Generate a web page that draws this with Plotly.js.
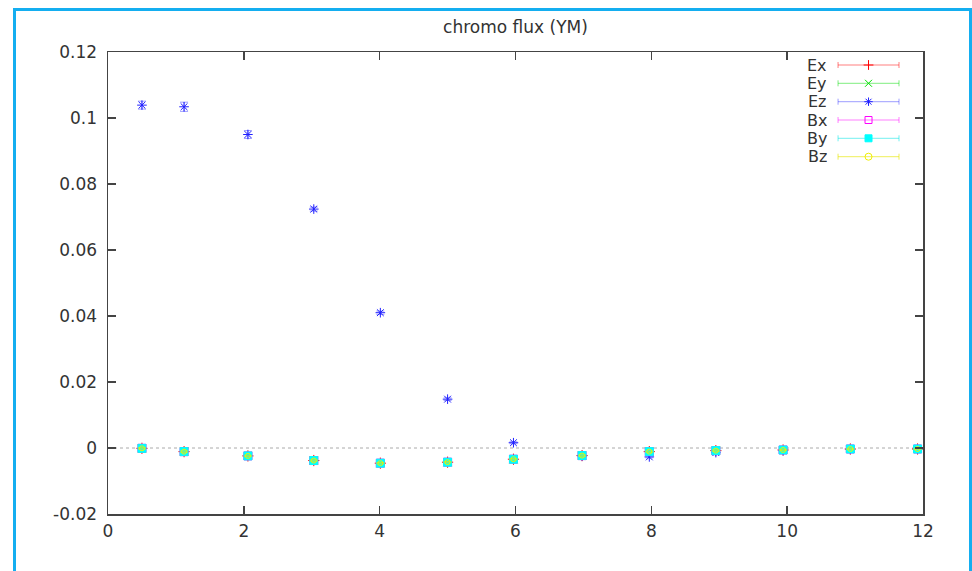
<!DOCTYPE html>
<html>
<head>
<meta charset="utf-8">
<script src="https://cdn.plot.ly/plotly-3.0.1.min.js"></script>
<style>
  html, body { margin: 0; padding: 0; background: #fff; }
  #wrap { position: relative; width: 972px; height: 571px; overflow: hidden; }
  #chart { position: absolute; left: 0; top: 0; width: 972px; height: 571px; }
  #frame { position: absolute; left: 13px; top: 8px; width: 953px; height: 560px;
           border: 3px solid #14aef0; pointer-events: none; }
</style>
</head>
<body>
<div id="wrap">
  <div id="chart"></div>
  <div id="frame"></div>
</div>
<script>
// ---- data ----
const seriesNames = ["Ex", "Ey", "Ez", "Bx", "By", "Bz"];
const xVals  = [0.5, 1.12, 2.06, 3.03, 4.01, 5.0, 5.97, 6.98, 7.97, 8.95, 9.94, 10.93, 11.92];
const exVals = [-0.0001, -0.0011, -0.0024, -0.0038, -0.0046, -0.0043, -0.0034, -0.0023, -0.0011, -0.0008, -0.0006, -0.0003, -0.0003];
const eyVals = [-0.0001, -0.0011, -0.0024, -0.0038, -0.0046, -0.0043, -0.0034, -0.0023, -0.0011, -0.0008, -0.0006, -0.0003, -0.0003];
const ezVals = [0.1039, 0.1034, 0.0950, 0.0724, 0.0410, 0.0148, 0.0016, -0.0024, -0.0027, -0.0014, -0.0008, -0.0004, -0.0003];
const bxVals = [-0.0001, -0.0011, -0.0024, -0.0038, -0.0046, -0.0043, -0.0034, -0.0023, -0.0011, -0.0008, -0.0006, -0.0003, -0.0003];
const byVals = [-0.0001, -0.0011, -0.0024, -0.0038, -0.0046, -0.0043, -0.0034, -0.0023, -0.0011, -0.0008, -0.0006, -0.0003, -0.0003];
const bzVals = [-0.0001, -0.0011, -0.0024, -0.0038, -0.0046, -0.0043, -0.0034, -0.0023, -0.0011, -0.0008, -0.0006, -0.0003, -0.0003];
const ezErr  = [0.0012, 0.0014, 0.0012, 0.0006, 0.0005, 0.0004, 0.0003, 0.0003, 0.0003, 0.0002, 0.0002, 0.0002, 0.0002];
const smallErr = [0.0002, 0.0002, 0.0002, 0.0002, 0.0002, 0.0002, 0.0002, 0.0002, 0.0002, 0.0002, 0.0002, 0.0002, 0.0002];
const xTicks = [0, 2, 4, 6, 8, 10, 12];
const yTicks = [-0.02, 0, 0.02, 0.04, 0.06, 0.08, 0.1, 0.12];
const yTickText = ["-0.02", "0", "0.02", "0.04", "0.06", "0.08", "0.1", "0.12"];

// ---- styles ----
const colors = ["#ff0000", "#00e000", "#2020ff", "#ff00ff", "#00ffff", "#f0f000"];
const barColors = ["rgba(255,0,0,0.5)", "rgba(0,220,0,0.5)", "rgba(40,40,255,0.45)",
                   "rgba(255,0,255,0.5)", "rgba(0,230,230,0.55)", "rgba(230,230,0,0.65)"];
const symbols = ["cross-thin-open", "x-thin-open", "asterisk-open", "square-open", "square", "circle-open"];
const sizes = [8, 8, 8, 8, 8, 5];
const values = [exVals, eyVals, ezVals, bxVals, byVals, bzVals];
const errs = [smallErr, smallErr, ezErr, smallErr, smallErr, smallErr];

const FONT = "DejaVu Sans, Liberation Sans, Arial, sans-serif";
const traces = [];
for (let i = 0; i < seriesNames.length; i++) {
  traces.push({
    type: "scatter", mode: "markers", name: seriesNames[i],
    x: xVals, y: values[i],
    error_y: { type: "data", array: errs[i], visible: true, color: barColors[i], thickness: 1, width: 4 },
    marker: { symbol: symbols[i], size: sizes[i], color: colors[i], line: { color: colors[i], width: 1 } },
    showlegend: false, hoverinfo: "x+y+name"
  });
}

// gnuplot-style key (text left, sample right) on a hidden pixel-mapped overlay axis
const keyTextX = 829, keySampleX = 868.5, keyHalf = 30.5;
const keyRows = [65, 83.3, 101.7, 120, 138.3, 156.7];
const annotations = [];
for (let i = 0; i < seriesNames.length; i++) {
  traces.push({
    type: "scatter", mode: "markers", xaxis: "x2", yaxis: "y2",
    x: [keySampleX], y: [keyRows[i]],
    error_x: { type: "constant", value: keyHalf, visible: true, color: barColors[i], thickness: 1, width: 3 },
    marker: { symbol: symbols[i], size: 7, color: colors[i], line: { color: colors[i], width: 1 } },
    showlegend: false, hoverinfo: "skip"
  });
  annotations.push({
    xref: "x2", yref: "y2", x: keyTextX, y: keyRows[i], text: seriesNames[i],
    showarrow: false, xanchor: "right", yanchor: "middle", height: 17,
    font: { family: FONT, size: 16, color: "#333" }
  });
}

const L = 107.5, R = 923, T = 52, B = 514;
const layout = {
  width: 972, height: 571,
  margin: { l: L, r: 972 - R, t: T, b: 571 - B, pad: 0 },
  paper_bgcolor: "rgba(0,0,0,0)", plot_bgcolor: "#fff",
  title: { text: "chromo flux (YM)", x: 0.5, xref: "paper", xanchor: "center",
           y: 1 - 27 / 571, yref: "container", yanchor: "middle",
           font: { family: FONT, size: 17, color: "#333" } },
  xaxis: { range: [0, 12], tickvals: xTicks, ticktext: xTicks.map(String),
           showgrid: false, zeroline: false, showline: true, linecolor: "#444", linewidth: 1.5,
           mirror: "ticks", ticks: "inside", ticklen: 8, tickcolor: "#444", tickwidth: 1.5,
           ticklabelstandoff: 1,
           tickfont: { family: FONT, size: 17, color: "#333" } },
  yaxis: { range: [-0.02, 0.12], tickvals: yTicks, ticktext: yTickText,
           showgrid: false, zeroline: false, showline: true, linecolor: "#444", linewidth: 1.5,
           mirror: "ticks", ticks: "inside", ticklen: 8, tickcolor: "#444", tickwidth: 1.5,
           ticklabelstandoff: 6,
           tickfont: { family: FONT, size: 17, color: "#333" } },
  xaxis2: { overlaying: "x", range: [L, R], visible: false, fixedrange: true },
  yaxis2: { overlaying: "y", range: [B, T], visible: false, fixedrange: true },
  shapes: [{ type: "line", xref: "paper", x0: 0, x1: 1, yref: "y", y0: 0, y1: 0,
             line: { color: "#aaaaaa", width: 1, dash: "dot" }, layer: "below" }],
  annotations: annotations,
  showlegend: false
};

Plotly.newPlot("chart", traces, layout, { staticPlot: true, displayModeBar: false });
</script>
</body>
</html>
